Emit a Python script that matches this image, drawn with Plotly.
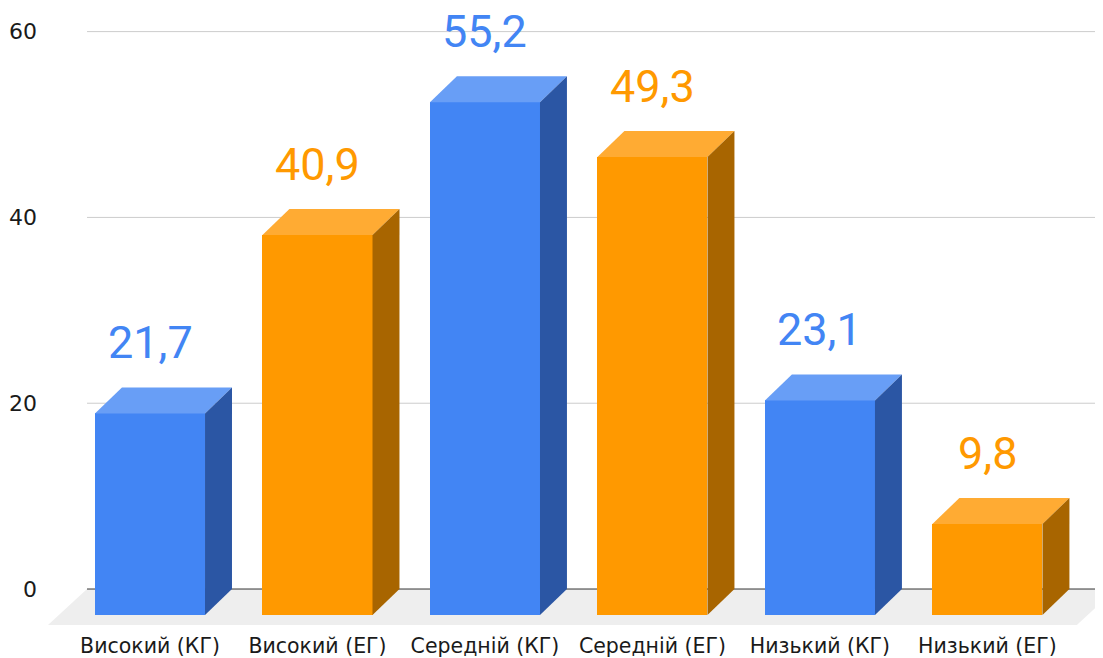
import plotly.graph_objects as go

categories = ["Високий (КГ)", "Високий (ЕГ)", "Середній (КГ)", "Середній (ЕГ)", "Низький (КГ)", "Низький (ЕГ)"]
values = [21.7, 40.9, 55.2, 49.3, 23.1, 9.8]
groups = ["КГ", "ЕГ", "КГ", "ЕГ", "КГ", "ЕГ"]
y_ticks = [0, 20, 40, 60]

front_col = {"КГ": "#4285F4", "ЕГ": "#FF9900"}
top_col = {"КГ": "#689EF6", "ЕГ": "#FFAB33"}
side_col = {"КГ": "#2B56A4", "ЕГ": "#A86500"}

# pseudo-3D geometry (axis units)
BW = 0.657      # bar front width
DX = 0.161      # bar depth, x
DY = 2.8        # bar depth, y
FDX = 0.233     # floor depth, x
FDY = 3.87      # floor depth, y
XL = -0.609     # floor front-left edge
XR = 5.534      # floor front-right edge

xs = list(range(len(categories)))

fig = go.Figure()

shapes = []
# floor
shapes.append(dict(
    type="path", xref="x", yref="y", layer="below",
    path=f"M {XL + FDX},0 L {XR + FDX},0 L {XR},{-FDY} L {XL},{-FDY} Z",
    fillcolor="#EEEEEE", line=dict(width=0)))
# gridlines on back wall
for t in y_ticks:
    shapes.append(dict(
        type="line", xref="x", yref="y", layer="below",
        x0=XL + FDX, x1=7, y0=t, y1=t,
        line=dict(color="#333333" if t == 0 else "#CCCCCC", width=1)))

# front faces
fig.add_trace(go.Bar(
    x=xs, y=values, base=[-DY] * len(values), width=BW,
    marker=dict(color=[front_col[g] for g in groups], line=dict(width=0)),
    hoverinfo="skip", showlegend=False))

# top and side faces
for x, v, g in zip(xs, values, groups):
    l, r = x - BW / 2, x + BW / 2
    fig.add_trace(go.Scatter(
        x=[l, r, r + DX, l + DX, l], y=[v - DY, v - DY, v, v, v - DY],
        fill="toself", fillcolor=top_col[g], mode="lines", line=dict(width=0),
        hoverinfo="skip", showlegend=False))
    fig.add_trace(go.Scatter(
        x=[r, r + DX, r + DX, r, r], y=[-DY, 0, v, v - DY, -DY],
        fill="toself", fillcolor=side_col[g], mode="lines", line=dict(width=0),
        hoverinfo="skip", showlegend=False))

# value labels
for x, v, g in zip(xs, values, groups):
    fig.add_annotation(
        x=x, y=v, text=f"{v:.1f}".replace(".", ","), showarrow=False,
        yanchor="bottom", yshift=16,
        font=dict(family="Roboto", size=45, color=front_col[g]))

fig.update_layout(
    width=1095, height=650,
    margin=dict(l=40, r=0, t=12, b=32),
    plot_bgcolor="white", paper_bgcolor="white",
    bargap=0,
    shapes=shapes,
    font=dict(family="DejaVu Sans", color="#222222"),
    xaxis=dict(range=[-0.609, 5.690], tickvals=xs, ticktext=categories,
               showgrid=False, zeroline=False, showline=False, ticks="",
               ticklabelstandoff=5,
               tickfont=dict(size=20.5, color="#1A1A1A"), automargin=False, fixedrange=True),
    yaxis=dict(range=[-3.98, 61.25], tickvals=y_ticks, showgrid=False,
               zeroline=False, showline=False, ticks="", ticklabelstandoff=10,
               tickfont=dict(size=22, color="#1A1A1A"), automargin=False, fixedrange=True),
)

fig.write_html("out.html")
